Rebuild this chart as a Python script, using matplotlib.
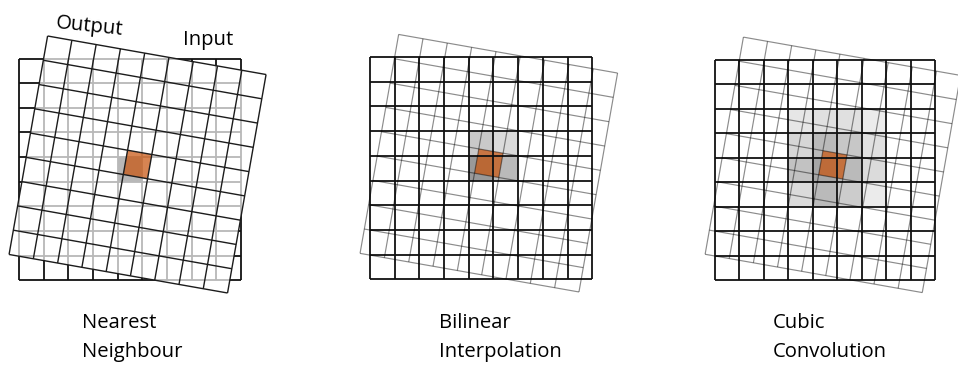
import numpy as np
import matplotlib.pyplot as plt
from matplotlib.patches import Polygon, Rectangle
from matplotlib.collections import LineCollection

plt.rcParams['font.family'] = ['Open Sans', 'DejaVu Sans']

# one panel per resampling method
methods = ['Nearest\nNeighbour', 'Bilinear\nInterpolation', 'Cubic\nConvolution']

n_cells = 9
angle_deg = 10.0
# centre of the rotated output grid, in input-cell units
out_centre = (4.81, 4.30)

# input cells used by each method: column, row, grey level (1 = white)
nn_cols = [4]
nn_rows = [4]
nn_grey = [0.72]

bl_cols = [4, 5, 4, 5]
bl_rows = [3, 3, 4, 4]
bl_grey = [0.79, 0.86, 0.60, 0.73]

cc_cols = [3, 4, 5, 6]
cc_rows = [2, 3, 4, 5]
cc_grey = [[0.90, 0.88, 0.88, 0.92],
           [0.84, 0.73, 0.78, 0.88],
           [0.76, 0.65, 0.73, 0.86],
           [0.86, 0.73, 0.80, 0.92]]

shade_sets = [
    list(zip(nn_cols, nn_rows, nn_grey)),
    list(zip(bl_cols, bl_rows, bl_grey)),
    [(c, r, cc_grey[i][j]) for i, r in enumerate(cc_rows) for j, c in enumerate(cc_cols)],
]

# layout in pixels
panel_left = [19, 370, 715]
panel_top = [58.5, 57, 59.5]
cell_px = [24.65, 24.7, 24.5]
label_x = [81.7, 439, 773]
label_y = 328.3
line_step = 28.4
orange = (200 / 255, 85 / 255, 15 / 255)

fig = plt.figure(figsize=(9.58, 3.66), dpi=100)
ax = fig.add_axes([0, 0, 1, 1])
ax.set_xlim(0, 958)
ax.set_ylim(366, 0)
ax.axis('off')

th = np.radians(angle_deg)
u = np.array([np.cos(th), np.sin(th)])
v = np.array([-np.sin(th), np.cos(th)])


for k, method in enumerate(methods):
    x0, y0, s = panel_left[k], panel_top[k], cell_px[k]
    org = np.array([x0, y0])

    def P(a, b):
        p = np.array(out_centre) + (a - n_cells / 2) * u + (b - n_cells / 2) * v
        return org + p * s

    # input grid (axis aligned)
    in_lines = []
    for i in range(n_cells + 1):
        in_lines.append([(x0 + i * s, y0), (x0 + i * s, y0 + n_cells * s)])
        in_lines.append([(x0, y0 + i * s), (x0 + n_cells * s, y0 + i * s)])

    # output grid (rotated)
    out_lines = []
    for i in range(n_cells + 1):
        out_lines.append([P(i, 0), P(i, n_cells)])
        out_lines.append([P(0, i), P(n_cells, i)])

    corners = [P(0, 0), P(n_cells, 0), P(n_cells, n_cells), P(0, n_cells)]
    mid = n_cells // 2
    cell_poly = [P(mid, mid), P(mid + 1, mid), P(mid + 1, mid + 1), P(mid, mid + 1)]

    if k == 0:
        ax.add_collection(LineCollection(in_lines, colors='#111111', linewidths=1.3, zorder=1))
        ax.add_patch(Polygon(corners, closed=True, facecolor='white', alpha=0.7,
                             edgecolor='none', zorder=2))
        for c, r, g in shade_sets[k]:
            ax.add_patch(Rectangle((x0 + c * s, y0 + r * s), s, s, facecolor=str(g),
                                   edgecolor='none', zorder=3))
        ax.add_patch(Polygon(cell_poly, closed=True, facecolor=orange, alpha=0.72,
                             edgecolor='none', zorder=4))
        ax.add_collection(LineCollection(out_lines, colors='#1c1c1c', linewidths=1.0, zorder=5))
    else:
        for c, r, g in shade_sets[k]:
            ax.add_patch(Rectangle((x0 + c * s, y0 + r * s), s, s, facecolor=str(g),
                                   edgecolor='none', zorder=1))
        ax.add_patch(Polygon(cell_poly, closed=True, facecolor=orange, alpha=0.72,
                             edgecolor='none', zorder=2))
        ax.add_collection(LineCollection(in_lines, colors='#111111', linewidths=1.3, zorder=3))
        ax.add_collection(LineCollection(out_lines, colors='black', alpha=0.45,
                                         linewidths=0.85, zorder=4))

    for j, line in enumerate(method.split('\n')):
        ax.text(label_x[k], label_y + j * line_step, line, fontsize=14.6,
                ha='left', va='baseline', color='black')

ax.text(55, 28.5, 'Output', fontsize=14.6, rotation=-6, rotation_mode='anchor',
        ha='left', va='baseline', color='black')
ax.text(183, 45.5, 'Input', fontsize=14.6, ha='left', va='baseline', color='black')

fig.savefig('out.png', dpi=100)
